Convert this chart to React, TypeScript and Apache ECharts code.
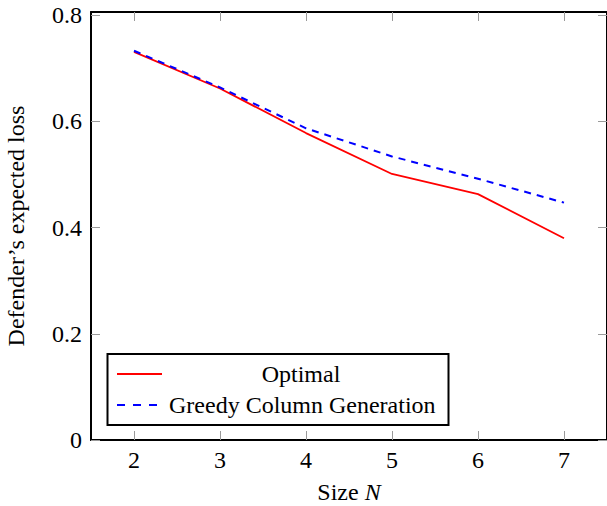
import React, { useEffect, useRef } from "react";
import * as echarts from "echarts";

const sizes = [2, 3, 4, 5, 6, 7];
const optimalLoss = [0.731, 0.662, 0.578, 0.501, 0.463, 0.38];
const greedyLoss = [0.733, 0.664, 0.587, 0.534, 0.492, 0.447];
const xTicks = [2, 3, 4, 5, 6, 7];
const yTicks = [0, 0.2, 0.4, 0.6, 0.8];
const seriesNames = ["Optimal", "Greedy Column Generation"];

const FONT = "Liberation Serif";
const FS = 24;

export default function App() {
  const ref = useRef<HTMLDivElement>(null);
  useEffect(() => {
    if (!ref.current) return;
    const chart = echarts.init(ref.current, null, { renderer: "svg" });
    const tickStyle = { show: true, inside: true, length: 9, lineStyle: { color: "#9a9a9a", width: 1 } };
    const frameLine = { show: true, onZero: false, lineStyle: { color: "#000", width: 2 } };
    chart.setOption({
      animation: false,
      backgroundColor: "#fff",
      textStyle: { fontFamily: FONT },
      grid: { left: 91, right: 0, top: 12, bottom: 66, containLabel: false, outerBoundsMode: "none" },
      xAxis: [
        {
          type: "value",
          min: 1.5,
          max: 7.5,
          position: "bottom",
          splitLine: { show: false },
          axisLine: frameLine,
          axisTick: { ...tickStyle, customValues: xTicks },
          axisLabel: {
            customValues: xTicks,
            margin: 8,
            fontFamily: FONT,
            fontSize: FS,
            color: "#000",
          },
          name: "Size {i|N}",
          nameLocation: "middle",
          nameGap: 40,
          nameTextStyle: {
            fontFamily: FONT,
            fontSize: FS,
            color: "#000",
            rich: { i: { fontFamily: FONT, fontSize: FS, fontStyle: "italic", color: "#000" } },
          },
        },
        {
          type: "value",
          min: 1.5,
          max: 7.5,
          position: "top",
          splitLine: { show: false },
          axisLine: frameLine,
          axisTick: { ...tickStyle, customValues: xTicks },
          axisLabel: { show: false },
        },
      ],
      yAxis: [
        {
          type: "value",
          min: 0,
          max: 0.806,
          position: "left",
          splitLine: { show: false },
          axisLine: frameLine,
          axisTick: { ...tickStyle, customValues: yTicks },
          axisLabel: {
            customValues: yTicks,
            margin: 9,
            fontFamily: FONT,
            fontSize: FS,
            color: "#000",
            formatter: (v: number) => (v === 0 ? "0" : v.toFixed(1)),
          },
          name: "Defender\u2019s expected loss",
          nameLocation: "middle",
          nameRotate: 90,
          nameGap: 63,
          nameTextStyle: { fontFamily: FONT, fontSize: FS, color: "#000" },
        },
        {
          type: "value",
          min: 0,
          max: 0.806,
          position: "right",
          splitLine: { show: false },
          axisLine: frameLine,
          axisTick: { ...tickStyle, customValues: yTicks },
          axisLabel: { show: false },
        },
      ],
      series: [
        {
          name: seriesNames[0],
          type: "line",
          data: sizes.map((s, i) => [s, optimalLoss[i]]),
          showSymbol: false,
          lineStyle: { color: "#ff0000", width: 1.8 },
          z: 3,
        },
        {
          name: seriesNames[1],
          type: "line",
          data: sizes.map((s, i) => [s, greedyLoss[i]]),
          showSymbol: false,
          lineStyle: { color: "#0000ff", width: 2, type: [7, 6] },
          z: 4,
        },
      ],
      graphic: [
        {
          type: "group",
          z: 100,
          children: [
            {
              type: "rect",
              shape: { x: 107.5, y: 354, width: 341, height: 71 },
              style: { fill: "#fff", stroke: "#000", lineWidth: 2 },
            },
            {
              type: "line",
              shape: { x1: 117, y1: 374, x2: 162, y2: 374 },
              style: { stroke: "#ff0000", lineWidth: 1.8 },
            },
            {
              type: "text",
              x: 301,
              y: 374,
              style: {
                text: seriesNames[0],
                fontFamily: FONT,
                fontSize: FS,
                fill: "#000",
                align: "center",
                verticalAlign: "middle",
              },
            },
            {
              type: "line",
              shape: { x1: 117, y1: 405, x2: 157, y2: 405 },
              style: { stroke: "#0000ff", lineWidth: 2, lineDash: [8, 8] },
            },
            {
              type: "text",
              x: 169,
              y: 405,
              style: {
                text: seriesNames[1],
                fontFamily: FONT,
                fontSize: FS,
                fill: "#000",
                align: "left",
                verticalAlign: "middle",
              },
            },
          ],
        },
      ],
    });
    return () => chart.dispose();
  }, []);
  return (
    <div
      ref={ref}
      style={{ position: "fixed", left: 0, top: 0, width: 607, height: 506, background: "#fff" }}
    />
  );
}
